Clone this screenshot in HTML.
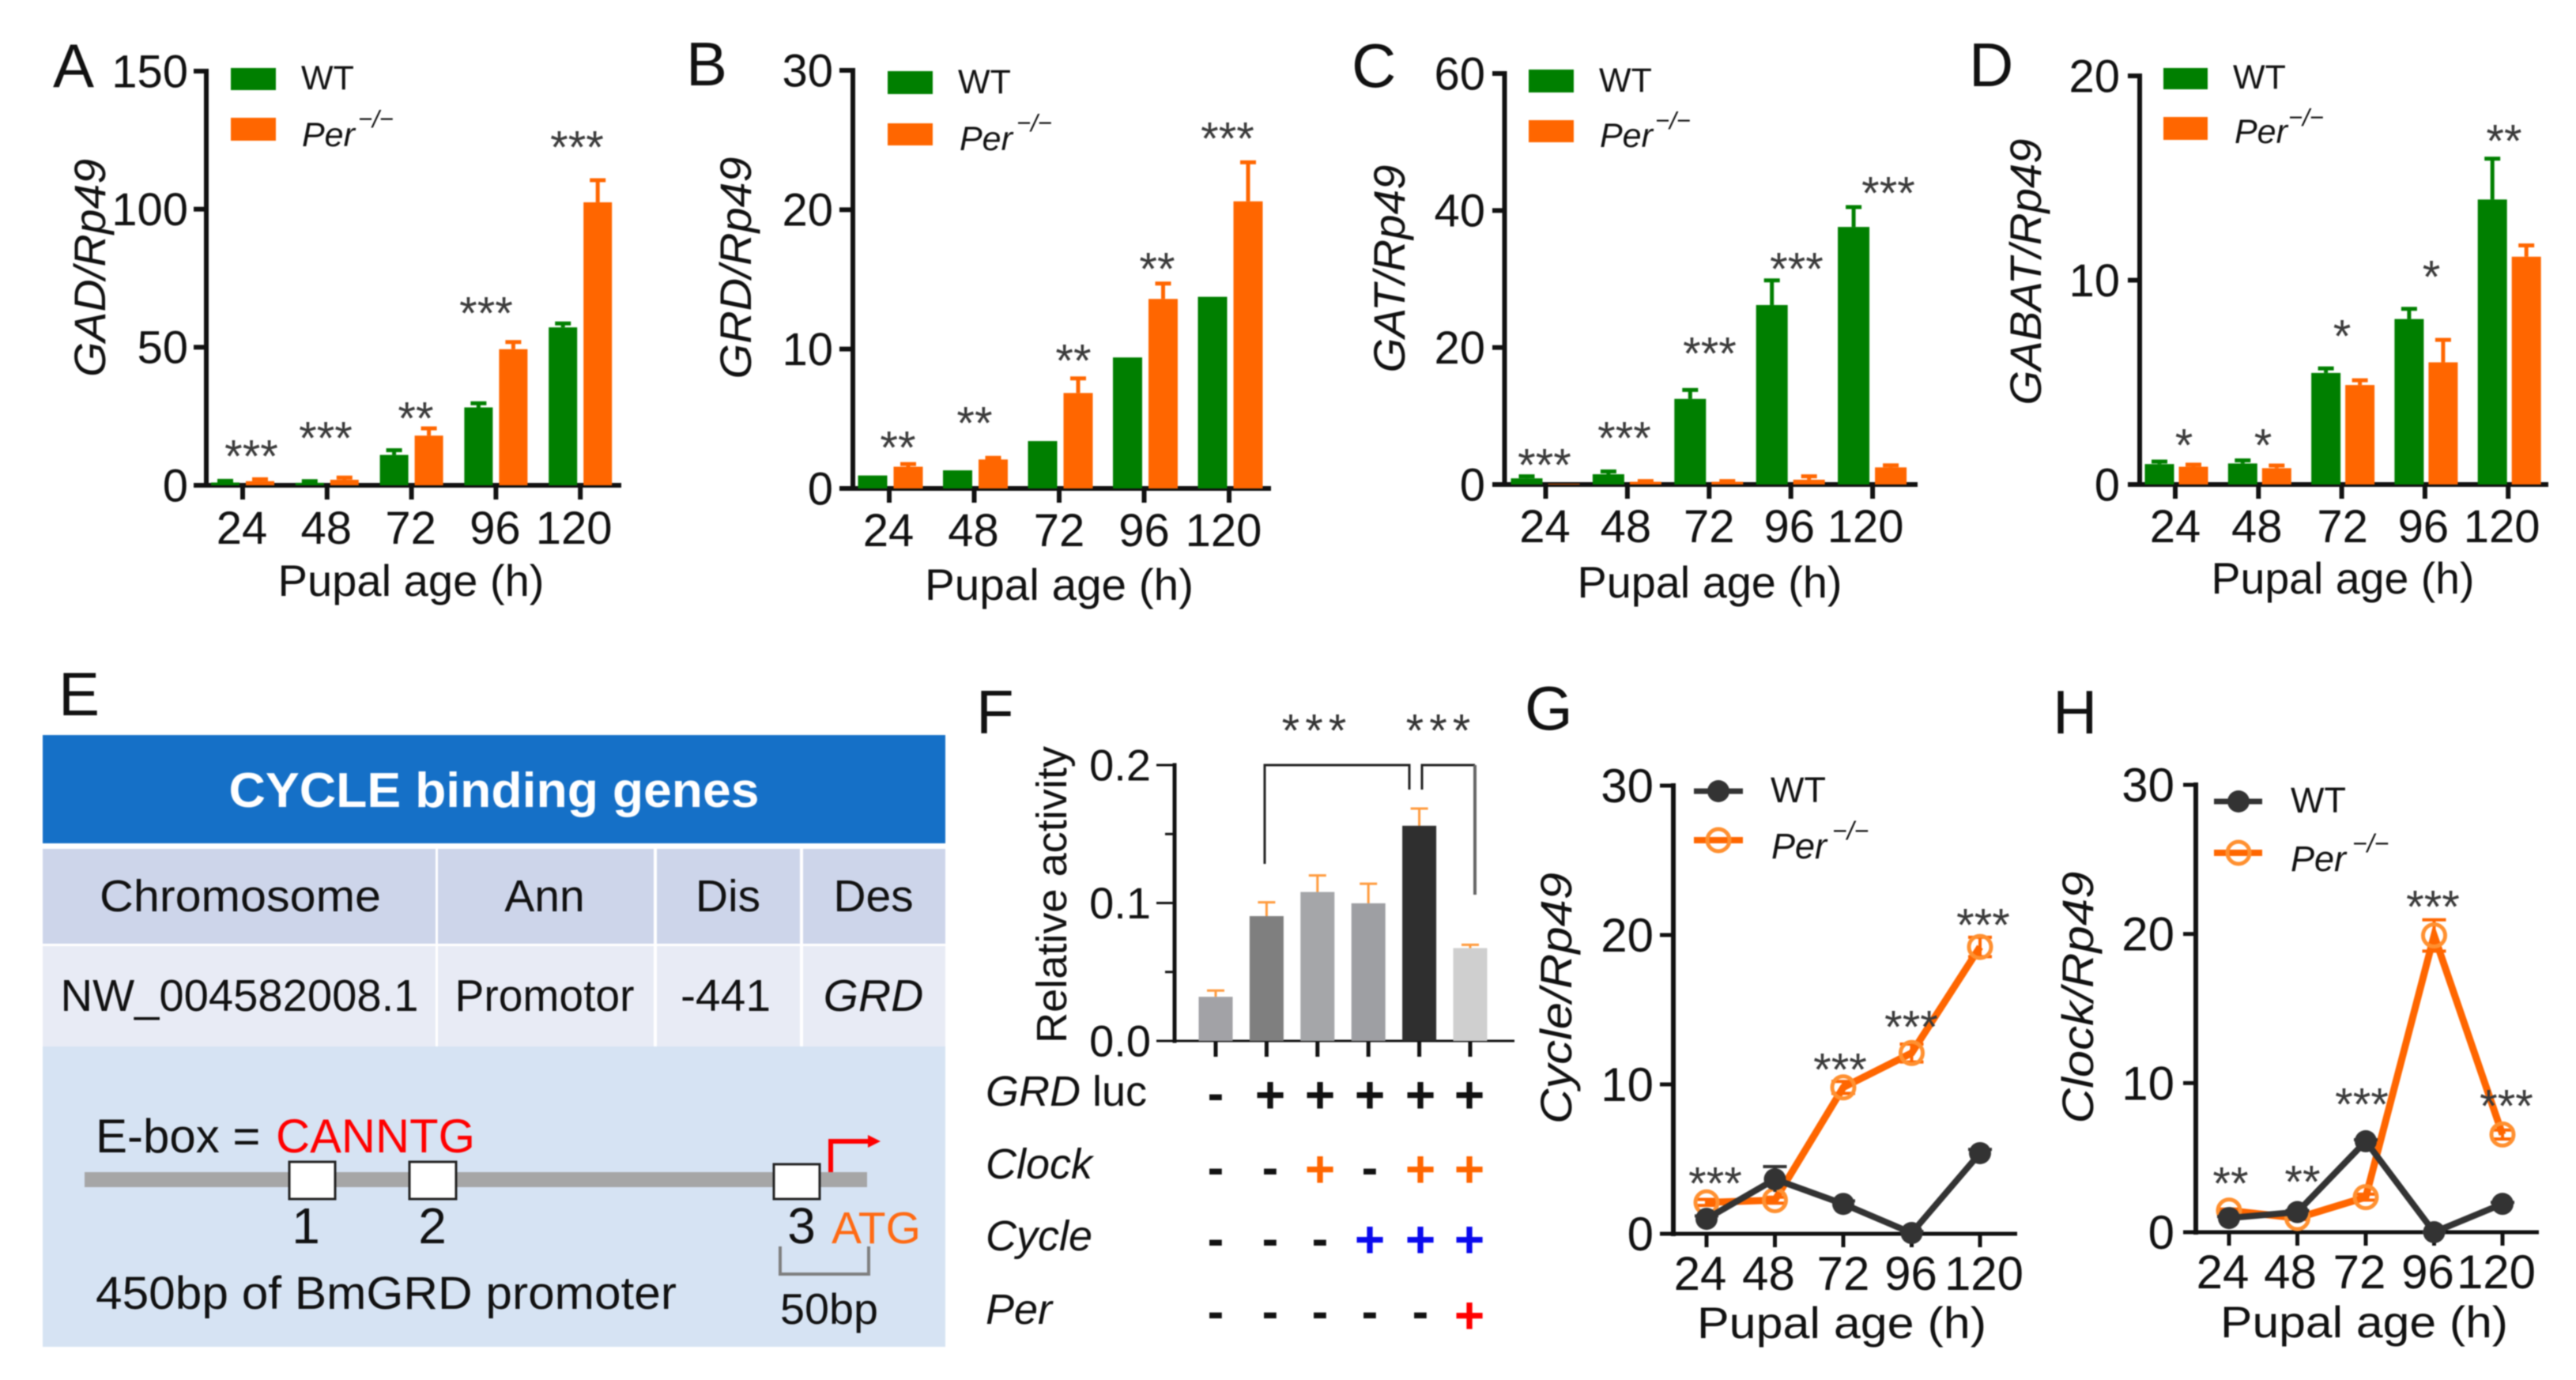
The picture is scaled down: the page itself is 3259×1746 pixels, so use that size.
<!DOCTYPE html>
<html lang="en">
<head>
<meta charset="utf-8">
<title>Panels A-H: GABA gene expression in WT and Per mutants</title>
<style>
html,body{margin:0;padding:0;background:#fff;}
svg{display:block;font-family:"Liberation Sans",Arial,sans-serif;filter:blur(0.8px);}
.pl{font-size:78px;fill:#111;}
.leg{font-size:43px;fill:#111;}
.i{font-style:italic;}
.xt{font-size:56px;fill:#111;}
.yt{font-size:56px;fill:#111;font-style:italic;}
</style>
</head>
<body>
<svg id="figure" xmlns="http://www.w3.org/2000/svg" width="3259" height="1746" viewBox="0 0 3259 1746">
<rect width="3259" height="1746" fill="#fff"/>

<!-- Panel A -->
<g id="panelA">
<text class="pl" x="67" y="110">A</text>
<text class="yt" transform="translate(133,339) rotate(-90)" text-anchor="middle" textLength="276" lengthAdjust="spacingAndGlyphs">GAD/Rp49</text>
<text class="xt" x="520" y="754" text-anchor="middle" textLength="337" lengthAdjust="spacingAndGlyphs">Pupal age (h)</text>
<rect x="292" y="86" width="57" height="28" fill="#007f00"/>
<rect x="292" y="149" width="57" height="29" fill="#ff6600"/>
<text class="leg" x="381" y="113">WT</text>
<text class="leg i" x="382" y="185">Per<tspan x="453" y="161" font-size="31">−/−</tspan></text>
</g>

<!-- Panel B -->
<g id="panelB">
<text class="pl" x="868" y="108">B</text>
<text class="yt" transform="translate(950,339) rotate(-90)" text-anchor="middle" textLength="281" lengthAdjust="spacingAndGlyphs">GRD/Rp49</text>
<text class="xt" x="1340" y="759" text-anchor="middle" textLength="340" lengthAdjust="spacingAndGlyphs">Pupal age (h)</text>
<rect x="1123" y="90" width="57" height="29" fill="#007f00"/>
<rect x="1123" y="156" width="57" height="28" fill="#ff6600"/>
<text class="leg" x="1212" y="118">WT</text>
<text class="leg i" x="1214" y="190">Per<tspan x="1286" y="166" font-size="31">−/−</tspan></text>
</g>

<!-- Panel C -->
<g id="panelC">
<text class="pl" x="1710" y="110">C</text>
<text class="yt" transform="translate(1777,340) rotate(-90)" text-anchor="middle" textLength="263" lengthAdjust="spacingAndGlyphs">GAT/Rp49</text>
<text class="xt" x="2163" y="756" text-anchor="middle" textLength="335" lengthAdjust="spacingAndGlyphs">Pupal age (h)</text>
<rect x="1934" y="88" width="57" height="29" fill="#007f00"/>
<rect x="1934" y="152" width="57" height="28" fill="#ff6600"/>
<text class="leg" x="2023" y="116">WT</text>
<text class="leg i" x="2024" y="186">Per<tspan x="2094" y="163" font-size="31">−/−</tspan></text>
</g>

<!-- Panel D -->
<g id="panelD">
<text class="pl" x="2491" y="109">D</text>
<text class="yt" transform="translate(2582,344) rotate(-90)" text-anchor="middle" textLength="337" lengthAdjust="spacingAndGlyphs">GABAT/Rp49</text>
<text class="xt" x="2964" y="751" text-anchor="middle" textLength="333" lengthAdjust="spacingAndGlyphs">Pupal age (h)</text>
<rect x="2737" y="86" width="56" height="27" fill="#007f00"/>
<rect x="2737" y="148" width="56" height="29" fill="#ff6600"/>
<text class="leg" x="2825" y="112">WT</text>
<text class="leg i" x="2827" y="181">Per<tspan x="2895" y="159" font-size="31">−/−</tspan></text>
</g>

<!-- Panel E -->
<g id="panelE">
<text class="pl" x="74" y="905">E</text>
<rect x="54" y="930" width="1142" height="137" fill="#1570c7"/>
<text x="625" y="1021" text-anchor="middle" font-size="62" font-weight="bold" fill="#fff" textLength="671" lengthAdjust="spacingAndGlyphs">CYCLE binding genes</text>
<rect x="54" y="1074" width="497" height="120" fill="#cdd5ea"/>
<rect x="554" y="1074" width="273" height="120" fill="#cdd5ea"/>
<rect x="831" y="1074" width="181" height="120" fill="#cdd5ea"/>
<rect x="1016" y="1074" width="180" height="120" fill="#cdd5ea"/>
<rect x="54" y="1197" width="497" height="127" fill="#e8ebf5"/>
<rect x="554" y="1197" width="273" height="127" fill="#e8ebf5"/>
<rect x="831" y="1197" width="181" height="127" fill="#e8ebf5"/>
<rect x="1016" y="1197" width="180" height="127" fill="#e8ebf5"/>
<rect x="54" y="1324" width="1142" height="380" fill="#d6e3f3"/>
<g font-size="57" fill="#111" text-anchor="middle">
<text x="304" y="1153" textLength="356" lengthAdjust="spacingAndGlyphs">Chromosome</text>
<text x="689" y="1153">Ann</text>
<text x="921" y="1153">Dis</text>
<text x="1105" y="1153">Des</text>
<text x="303" y="1279" textLength="453" lengthAdjust="spacingAndGlyphs">NW_004582008.1</text>
<text x="689" y="1279" textLength="227" lengthAdjust="spacingAndGlyphs">Promotor</text>
<text x="918" y="1279">-441</text>
<text x="1105" y="1279" font-style="italic">GRD</text>
</g>
<text x="121" y="1458" font-size="60" fill="#111">E-box = <tspan x="349" fill="#f00" textLength="252" lengthAdjust="spacingAndGlyphs">CANNTG</tspan></text>
<rect x="107" y="1483" width="990" height="19" fill="#a6a6a6"/>
<rect x="366" y="1470" width="58" height="47" fill="#fff" stroke="#222" stroke-width="3"/>
<rect x="518" y="1470" width="59" height="47" fill="#fff" stroke="#222" stroke-width="3"/>
<rect x="979" y="1473" width="58" height="44" fill="#fff" stroke="#222" stroke-width="3"/>
<g font-size="64" fill="#111" text-anchor="middle">
<text x="387" y="1573">1</text>
<text x="547" y="1573">2</text>
<text x="1014" y="1573">3</text>
</g>
<text x="1052" y="1573" font-size="57" fill="#ff6a13">ATG</text>
<path d="M1051 1483V1444H1100" fill="none" stroke="#f00" stroke-width="6"/>
<path d="M1098 1436L1114 1444L1098 1452Z" fill="#f00"/>
<path d="M987 1577V1612H1099V1577" fill="none" stroke="#7f7f7f" stroke-width="4"/>
<text x="987" y="1675" font-size="55" fill="#111" textLength="124" lengthAdjust="spacingAndGlyphs">50bp</text>
<text x="121" y="1656" font-size="58" fill="#111" textLength="735" lengthAdjust="spacingAndGlyphs">450bp of BmGRD promoter</text>
</g>

<!-- Panel F -->
<g id="panelF">
<text class="pl" x="1235" y="928">F</text>
<text transform="translate(1349,1132) rotate(-90)" text-anchor="middle" font-size="54" fill="#111" textLength="376" lengthAdjust="spacingAndGlyphs">Relative activity</text>
<path d="M1600 1093V968H1783V999" fill="none" stroke="#222" stroke-width="3"/>
<path d="M1799 999V968H1866" fill="none" stroke="#222" stroke-width="3"/>
<path d="M1866 968V1132" fill="none" stroke="#666" stroke-width="4"/>
<g font-size="54" fill="#111">
<text x="1247" y="1399"><tspan font-style="italic">GRD</tspan> luc</text>
<text x="1247" y="1491" font-style="italic">Clock</text>
<text x="1247" y="1582" font-style="italic">Cycle</text>
<text x="1247" y="1675" font-style="italic">Per</text>
</g>
</g>

<!-- Panel G -->
<g id="panelG">
<text class="pl" x="1929" y="923">G</text>
<text class="yt" transform="translate(1988,1263) rotate(-90)" text-anchor="middle" textLength="318" lengthAdjust="spacingAndGlyphs">Cycle/Rp49</text>
<text class="xt" x="2330" y="1693" text-anchor="middle" textLength="366" lengthAdjust="spacingAndGlyphs">Pupal age (h)</text>
<line x1="2143" y1="1001" x2="2205" y2="1001" stroke="#333" stroke-width="7"/>
<circle cx="2174" cy="1001" r="14" fill="#333"/>
<line x1="2143" y1="1063" x2="2205" y2="1063" stroke="#ff6600" stroke-width="8"/>
<circle cx="2174" cy="1063" r="14" fill="none" stroke="#ff9030" stroke-width="5"/>
<text class="leg" style="font-size:45px" x="2240" y="1015">WT</text>
<text class="leg i" style="font-size:45px" x="2241" y="1086">Per<tspan x="2318" y="1062" font-size="32">−/−</tspan></text>
</g>

<!-- Panel H -->
<g id="panelH">
<text class="pl" x="2597" y="928">H</text>
<text class="yt" transform="translate(2648,1262) rotate(-90)" text-anchor="middle" textLength="319" lengthAdjust="spacingAndGlyphs">Clock/Rp49</text>
<text class="xt" x="2991" y="1692" text-anchor="middle" textLength="364" lengthAdjust="spacingAndGlyphs">Pupal age (h)</text>
<line x1="2801" y1="1014" x2="2862" y2="1014" stroke="#333" stroke-width="7"/>
<circle cx="2832" cy="1014" r="14" fill="#333"/>
<line x1="2801" y1="1079" x2="2862" y2="1079" stroke="#ff6600" stroke-width="8"/>
<circle cx="2832" cy="1079" r="14" fill="none" stroke="#ff9030" stroke-width="5"/>
<text class="leg" style="font-size:45px" x="2898" y="1028">WT</text>
<text class="leg i" style="font-size:45px" x="2898" y="1102">Per<tspan x="2976" y="1078" font-size="32">−/−</tspan></text>
</g>
</svg>

<script>
// ---------- chart data ----------
const ageLabels = ['24', '48', '72', '96', '120'];

const gadTicks = [0, 50, 100, 150];
const gadWT = [1, 0.9, 11, 28.2, 57.2];
const gadWTErr = [0.6, 0.6, 1.7, 1.5, 1.4];
const gadPer = [1.5, 2, 18, 49.3, 102.5];
const gadPerErr = [0.7, 0.8, 2.6, 2.6, 8];
const gadStars = ['***', '***', '**', '***', '***'];

const grdTicks = [0, 10, 20, 30];
const grdWT = [0.93, 1.3, 3.4, 9.4, 13.75];
const grdWTErr = [0, 0, 0, 0, 0];
const grdPer = [1.56, 2.08, 6.85, 13.6, 20.6];
const grdPerErr = [0.19, 0.12, 1.05, 1.1, 2.8];
const grdStars = ['**', '**', '**', '**', '***'];

const gatTicks = [0, 20, 40, 60];
const gatWT = [0.9, 1.5, 12.5, 26.2, 37.6];
const gatWTErr = [0.3, 0.4, 1.3, 3.6, 2.9];
const gatPer = [0.1, 0.4, 0.4, 0.7, 2.5];
const gatPerErr = [0, 0.1, 0.1, 0.5, 0.3];
const gatStars = ['***', '***', '***', '***', '***'];

const gabatTicks = [0, 10, 20];
const gabatWT = [1, 1.03, 5.46, 8.1, 13.95];
const gabatWTErr = [0.12, 0.15, 0.22, 0.5, 2];
const gabatPer = [0.87, 0.8, 4.87, 5.98, 11.15];
const gabatPerErr = [0.1, 0.13, 0.23, 1.1, 0.55];
const gabatStars = ['*', '*', '*', '*', '**'];

const activityTicks = [0, 0.1, 0.2];
const activityTickLabels = ['0.0', '0.1', '0.2'];
const activityMinorTicks = [0.05, 0.15];
const activity = [0.032, 0.0905, 0.108, 0.0998, 0.156, 0.0673];
const activityErr = [0.0045, 0.01, 0.012, 0.0142, 0.0125, 0.0024];
const grdLucRow = ['-', '+', '+', '+', '+', '+'];
const clockRow = ['-', '-', '+', '-', '+', '+'];
const cycleRow = ['-', '-', '-', '+', '+', '+'];
const perRow = ['-', '-', '-', '-', '-', '+'];

const lineTicks = [0, 10, 20, 30];
const cycleWT = [1, 3.65, 2, 0.05, 5.4];
const cycleWTErr = [0.2, 0.85, 0.2, 0.1, 0.25];
const cyclePer = [2.1, 2.25, 9.8, 12.1, 19.2];
const cyclePerErr = [0.2, 0.2, 0.4, 0.6, 0.65];
const cycleStars = ['***', '', '***', '***', '***'];

const clockWT = [0.95, 1.35, 6.1, 0, 1.9];
const clockWTErr = [0.1, 0.1, 0.1, 0, 0.1];
const clockPer = [1.45, 0.95, 2.35, 19.9, 6.55];
const clockPerErr = [0.1, 0.1, 0.2, 1.05, 0.3];
const clockStars = ['**', '**', '***', '***', '***'];

// ---------- drawing helpers ----------
const NS = 'http://www.w3.org/2000/svg';
function mk(parent, tag, attrs, txt) {
  const n = document.createElementNS(NS, tag);
  for (const k in attrs) n.setAttribute(k, attrs[k]);
  if (txt !== undefined) n.textContent = txt;
  parent.appendChild(n);
  return n;
}
const INK = '#111';
const STAR_SIZE = 58;
const STAR_DROP = 0.47;

function drawAxes(cfg, yTicks, yTickText) {
  const g = document.getElementById(cfg.id);
  const yScale = v => cfg.y0 - v / cfg.yMax * (cfg.y0 - cfg.yTop);
  const xScale = i => cfg.xFirst + i * cfg.xStep;
  let el = mk(g, 'line', {x1: cfg.axisX, x2: cfg.axisX, y1: cfg.yTop - cfg.lw / 2, y2: cfg.y0 + cfg.lw / 2, stroke: INK, 'stroke-width': cfg.lw});
  
  
  el = mk(g, 'line', {x1: cfg.tickLeft, x2: cfg.xRight, y1: cfg.y0, y2: cfg.y0, stroke: INK, 'stroke-width': cfg.xlw || cfg.lw});
  
  
  yTicks.forEach((t, i) => {
    const py = yScale(t);
    if (t !== 0) {
      el = mk(g, 'line', {x1: cfg.tickLeft, x2: cfg.axisX, y1: py, y2: py, stroke: INK, 'stroke-width': cfg.tlw || cfg.lw});
      
      
    }
    el = mk(g, 'text', {x: cfg.yLabelRight, y: py + cfg.fs * 0.35, 'text-anchor': 'end', 'font-size': cfg.fs, fill: INK}, yTickText ? yTickText[i] : String(t));
    
    
  });
  return {g, xScale, yScale};
}

function drawXTicks(g, cfg, xScale) {
  ageLabels.forEach((lab, i) => {
    let el = mk(g, 'line', {x1: xScale(i), x2: xScale(i), y1: cfg.y0, y2: cfg.y0 + cfg.tickLen, stroke: INK, 'stroke-width': cfg.tlw || cfg.lw});
    
    
    el = mk(g, 'text', {x: xScale(i) + cfg.labelDx[i], y: cfg.xLabelY, 'text-anchor': 'middle', 'font-size': cfg.fs, fill: INK}, lab);
    
    
  });
}

function drawStars(g, labels, at) {
  labels.forEach((s, i) => {
    if (!s) return;
    const el = mk(g, 'text', {x: at[i][0], y: at[i][1] + STAR_SIZE * STAR_DROP, 'text-anchor': 'middle', 'font-size': STAR_SIZE, fill: '#3a3a3a'}, s);
    
    
  });
}

function drawErr(g, x, yBase, yTopErr, capW, color, sw) {
  let el = mk(g, 'line', {x1: x, x2: x, y1: yBase, y2: yTopErr, stroke: color, 'stroke-width': sw});
  
  
  el = mk(g, 'line', {x1: x - capW / 2, x2: x + capW / 2, y1: yTopErr, y2: yTopErr, stroke: color, 'stroke-width': sw});
  
  
}

function drawBarPanel(cfg, yTicks, wt, wtErr, per, perErr, stars) {
  const {g, xScale, yScale} = drawAxes(cfg, yTicks);
  ageLabels.forEach((lab, i) => {
    const xw = xScale(i) + cfg.offW;
    const xp = xScale(i) + cfg.offP;
    if (wtErr[i] > 0) drawErr(g, xw, yScale(wt[i]), yScale(wt[i] + wtErr[i]), 20, '#007f00', 5);
    if (perErr[i] > 0) drawErr(g, xp, yScale(per[i]), yScale(per[i] + perErr[i]), 20, '#ff6600', 5);
    let el = mk(g, 'rect', {x: xw - cfg.barW / 2, y: yScale(wt[i]), width: cfg.barW, height: cfg.y0 - yScale(wt[i]), fill: '#007f00'});
    
    
    el = mk(g, 'rect', {x: xp - cfg.barW / 2, y: yScale(per[i]), width: cfg.barW, height: cfg.y0 - yScale(per[i]), fill: '#ff6600'});
    
    
  });
  drawXTicks(g, cfg, xScale);
  drawStars(g, stars, cfg.starAt);
}

function pointsAttr(vals, xScale, yScale) {
  return vals.map((v, i) => xScale(i) + ',' + yScale(v)).join(' ');
}

function drawLinePanel(cfg, yTicks, wt, wtErr, per, perErr, stars) {
  const {g, xScale, yScale} = drawAxes(cfg, yTicks);
  drawXTicks(g, cfg, xScale);
  let el = mk(g, 'polyline', {points: pointsAttr(per, xScale, yScale), fill: 'none', stroke: '#ff6600', 'stroke-width': 9});
  
  
  per.forEach((v, i) => {
    const x = xScale(i);
    let c = mk(g, 'line', {x1: x, x2: x, y1: yScale(v - perErr[i]), y2: yScale(v + perErr[i]), stroke: '#ff6600', 'stroke-width': 4});
    
    
    c = mk(g, 'line', {x1: x - 15, x2: x + 15, y1: yScale(v + perErr[i]), y2: yScale(v + perErr[i]), stroke: '#ff6600', 'stroke-width': 4});
    
    
    c = mk(g, 'line', {x1: x - 15, x2: x + 15, y1: yScale(v - perErr[i]), y2: yScale(v - perErr[i]), stroke: '#ff6600', 'stroke-width': 4});
    
    
    c = mk(g, 'circle', {cx: x, cy: yScale(v), r: 14, fill: 'none', stroke: '#ff9030', 'stroke-width': 5});
    
    
  });
  el = mk(g, 'polyline', {points: pointsAttr(wt, xScale, yScale), fill: 'none', stroke: '#333', 'stroke-width': 8});
  
  
  wt.forEach((v, i) => {
    const x = xScale(i);
    let c = mk(g, 'line', {x1: x, x2: x, y1: yScale(v - wtErr[i]), y2: yScale(v + wtErr[i]), stroke: '#333', 'stroke-width': 4});
    
    
    c = mk(g, 'line', {x1: x - 15, x2: x + 15, y1: yScale(v + wtErr[i]), y2: yScale(v + wtErr[i]), stroke: '#333', 'stroke-width': 4});
    
    
    c = mk(g, 'circle', {cx: x, cy: yScale(v), r: 14, fill: '#333'});
    
    
  });
  drawStars(g, stars, cfg.starAt);
}

function drawPanelF() {
  const cfg = {id: 'panelF', axisX: 1486, tickLeft: 1463, xRight: 1916, yTop: 968, y0: 1317, yMax: 0.2, lw: 5, xlw: 3, tlw: 3, yLabelRight: 1456, fs: 56, xFirst: 1538, xStep: 64.4};
  const {g, xScale, yScale} = drawAxes(cfg, activityTicks, activityTickLabels);
  const barColors = ['#a2a2a6', '#7f7f7f', '#a5a6a9', '#9e9fa3', '#2f2f2f', '#cfcfcf'];
  activityMinorTicks.forEach(t => {
    const el = mk(g, 'line', {x1: 1474, x2: cfg.axisX, y1: yScale(t), y2: yScale(t), stroke: INK, 'stroke-width': 3});
    
    
  });
  activity.forEach((v, i) => {
    const x = xScale(i);
    drawErr(g, x, yScale(v), yScale(v + activityErr[i]), 22, '#ff9a3d', 3);
    let el = mk(g, 'rect', {x: x - 21.5, y: yScale(v), width: 43, height: cfg.y0 - yScale(v), fill: barColors[i]});
    
    
    el = mk(g, 'line', {x1: x, x2: x, y1: cfg.y0, y2: cfg.y0 + 20, stroke: INK, 'stroke-width': 5});
    
    
  });
  const signColumns = [1538, 1607, 1670, 1733, 1797, 1859];
  const rows = [grdLucRow, clockRow, cycleRow, perRow];
  const plusColors = ['#111', '#ff6600', '#0a0aee', '#f00'];
  const plusY = [1385, 1479, 1568, 1664];
  const minusY = [1389, 1483, 1573, 1665];
  rows.forEach((row, r) => {
    row.forEach((s, c) => {
      const isPlus = s === '+';
      const size = isPlus ? 66 : 62;
      const el = mk(g, 'text', {x: signColumns[c], y: isPlus ? plusY[r] + size * 0.34 : minusY[r] + size * 0.25, 'text-anchor': 'middle', 'font-size': size, 'font-weight': 'bold', fill: isPlus ? plusColors[r] : '#111'}, s);
      
      
    });
  });
  let st = mk(g, 'text', {x: 1666, y: 917 + STAR_SIZE * STAR_DROP, 'text-anchor': 'middle', 'font-size': STAR_SIZE, 'letter-spacing': 7, fill: '#333'}, '***');
  
  
  st = mk(g, 'text', {x: 1823, y: 917 + STAR_SIZE * STAR_DROP, 'text-anchor': 'middle', 'font-size': STAR_SIZE, 'letter-spacing': 7, fill: '#333'}, '***');
  
  
}

// ---------- draw ----------
drawBarPanel({id: 'panelA', axisX: 261, tickLeft: 245, xRight: 786, yTop: 90, y0: 614, yMax: 150, lw: 6, yLabelRight: 238, fs: 58,
  xFirst: 307, xStep: 106.8, offW: -22, offP: 22, barW: 36, tickLen: 18, xLabelY: 688, labelDx: [-1, -1, -1, -1, -8],
  starAt: [[318, 570], [412, 547], [526, 522], [615, 389], [730, 179]]}, gadTicks, gadWT, gadWTErr, gadPer, gadPerErr, gadStars);
drawBarPanel({id: 'panelB', axisX: 1079, tickLeft: 1062, xRight: 1608, yTop: 89, y0: 618, yMax: 30, lw: 6, yLabelRight: 1054, fs: 58,
  xFirst: 1125, xStep: 107.5, offW: -21, offP: 24, barW: 37, tickLen: 18, xLabelY: 691, labelDx: [-1, -1, 0, 0, -7],
  starAt: [[1136, 559], [1233, 528], [1358, 449], [1464, 333], [1553, 168]]}, grdTicks, grdWT, grdWTErr, grdPer, grdPerErr, grdStars);
drawBarPanel({id: 'panelC', axisX: 1903.5, tickLeft: 1888, xRight: 2426, yTop: 93, y0: 613, yMax: 60, lw: 6, yLabelRight: 1879, fs: 58,
  xFirst: 1955.5, xStep: 103.4, offW: -24, offP: 23, barW: 40, tickLen: 18, xLabelY: 686, labelDx: [-1, -2, 0, -2, -9],
  starAt: [[1954, 581], [2055, 547], [2163, 440], [2273, 333], [2389, 237]]}, gatTicks, gatWT, gatWTErr, gatPer, gatPerErr, gatStars);
drawBarPanel({id: 'panelD', axisX: 2707, tickLeft: 2692, xRight: 3224, yTop: 96, y0: 613, yMax: 20, lw: 6, yLabelRight: 2682, fs: 58,
  xFirst: 2752, xStep: 105.3, offW: -20, offP: 23, barW: 37, tickLen: 18, xLabelY: 686, labelDx: [0, -2, 1, -2, -8],
  starAt: [[2763, 556], [2863, 556], [2963, 418], [3076, 343], [3168, 171]]}, gabatTicks, gabatWT, gabatWTErr, gabatPer, gabatPerErr, gabatStars);
drawPanelF();
drawLinePanel({id: 'panelG', axisX: 2117, tickLeft: 2100, xRight: 2552, yTop: 994, y0: 1561, yMax: 30, lw: 6, xlw: 5, tlw: 5, yLabelRight: 2092, fs: 60,
  xFirst: 2159, xStep: 86.5, tickLen: 17, xLabelY: 1632, labelDx: [-8, -8, 0, -1, 5],
  starAt: [[2170, 1490], [0, 0], [2328, 1346], [2418, 1292], [2509, 1163]]}, lineTicks, cycleWT, cycleWTErr, cyclePer, cyclePerErr, cycleStars);
drawLinePanel({id: 'panelH', axisX: 2778, tickLeft: 2762, xRight: 3212, yTop: 993, y0: 1559, yMax: 30, lw: 6, xlw: 5, tlw: 5, yLabelRight: 2751, fs: 60,
  xFirst: 2820, xStep: 86.5, tickLen: 17, xLabelY: 1630, labelDx: [-8, -9, -8, -8, -8],
  starAt: [[2822, 1490], [2913, 1488], [2988, 1390], [3078, 1140], [3171, 1392]]}, lineTicks, clockWT, clockWTErr, clockPer, clockPerErr, clockStars);
</script>
</body>
</html>
